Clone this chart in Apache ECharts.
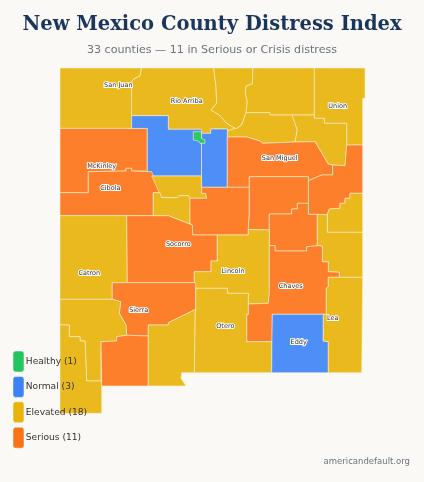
<!DOCTYPE html>
<html><head><meta charset="utf-8">
<style>html,body{margin:0;padding:0;background:#faf9f6}#c{width:424px;height:482px}</style>
<script src="https://cdn.jsdelivr.net/npm/echarts@6/dist/echarts.min.js"></script>
</head><body><div id="c"></div>
<script>
// County outlines in map units
const sanJuan=[[60,68],[141.6,68],[140.7,73],[140,76],[134,79],[132,81],[131.6,83],[131.6,128.4],[60,128.4]];
const rioArriba=[[131.6,83],[132,81],[134,79],[140,76],[140.7,73],[141.6,68],[213.7,68],[216,86.7],[216.7,103],[211,110],[219.3,115],[226.7,123.3],[235,128.3],[228.3,131],[227.3,129],[210.7,129],[210.7,133.3],[201.5,133.3],[201.5,129.3],[168.3,129.3],[168.3,115.7],[131.6,115.7]];
const taos=[[213.7,68],[253,68],[252.7,75],[252.3,84],[246,86],[245.3,93.3],[247.3,101.7],[246,112.7],[241.7,125],[236.7,128.5],[235,128.3],[226.7,123.3],[219.3,115],[211,110],[216.7,103],[216,86.7]];
const colfax=[[253,68],[314.3,68],[314.3,115],[270,115],[270,112.7],[246,112.7],[247.3,101.7],[245.3,93.3],[246,86],[252.3,84],[252.7,75]];
const union=[[314.3,68],[365,68],[365,98.3],[362.7,98.3],[362.7,145],[346.7,145],[346.7,123.3],[324.3,123.3],[324.3,118.3],[314.3,118.3]];
const mora=[[246,112.7],[270,112.7],[270,115],[292.3,115],[292.3,116],[297.3,130],[295,142],[262.7,143.3],[260,141],[246.7,137],[227.3,137],[227.3,131],[228.3,131],[235,128.3],[236.7,128.5],[241.7,125]];
const harding=[[292.3,115],[314.3,115],[314.3,118.3],[324.3,118.3],[324.3,123.3],[346.7,123.3],[346.7,145],[345,165.7],[332.7,165],[328.3,164],[315,141.7],[295,142],[297.3,130],[292.3,116]];
const mcKinley=[[60,128.4],[147.3,128.4],[147.3,171],[131.7,171],[131.7,168.3],[126,168.3],[126,171],[88.3,171.7],[88.3,192.7],[60,192.7]];
const sandoval=[[131.6,115.7],[168.3,115.7],[168.3,129.3],[201.5,129.3],[201.5,176],[151.7,176],[147.3,171],[147.3,128.4],[131.6,128.4]];
const santaFe=[[201.5,133.3],[210.7,133.3],[210.7,129],[227.3,129],[227.3,187.3],[201.5,187.3]];
const losAlamos=[[193.3,131.7],[201.5,131.7],[201.5,138.3],[205,140],[205,143.3],[200,143.3],[198.3,141],[193.3,140]];
const sanMiguel=[[227.3,137],[246.7,137],[260,141],[262.7,143.3],[295,142],[315,141.7],[328.3,164],[332.7,165],[332.7,175],[321.7,175],[308.3,180.7],[308.3,176.7],[249.3,176.7],[249.3,187.3],[227.3,187.3]];
const quay=[[346.7,145],[362.7,145],[362.7,193.3],[350,193.3],[350,198.3],[345,198.3],[345,203.3],[340,203.3],[340,208.3],[329.3,209],[327.3,214.6],[308.3,214.3],[308.3,180.7],[321.7,175],[332.7,175],[332.7,165],[345,165.7]];
const cibola=[[60,192.7],[88.3,192.7],[88.3,171.7],[126,171],[126,168.3],[131.7,168.3],[131.7,171],[151.7,171.7],[160,192.7],[153.3,192.7],[153.3,215.7],[60,215.7]];
const bernalillo=[[151.7,176],[201.5,176],[201.7,193.3],[205.7,193.3],[206.7,198.3],[190,198.3],[188.3,195.7],[179.3,195.7],[176.7,197.7],[161.7,197.7]];
const valencia=[[153.3,192.7],[160,192.7],[161.7,197.7],[176.7,197.7],[179.3,195.7],[188.3,195.7],[190,198.3],[190,223],[192.3,225],[168.3,215.7],[153.3,215.7]];
const torrance=[[201.7,187.3],[249.3,187.3],[249.3,215],[248.3,229],[248.3,235],[192.7,235],[192.3,225],[190,223],[190,198.3],[206.7,198.3],[205.7,193.3],[201.7,193.3]];
const guadalupe=[[249.3,176.7],[308.3,176.7],[308.3,203.3],[297.3,203.3],[297.3,209],[291.7,209],[291.7,214],[269.3,214],[269.3,230],[248.3,229.5],[249.3,215]];
const curry=[[362.7,193.3],[362.7,232.3],[327.3,232.3],[327.3,214.6],[329.3,209],[340,208.3],[340,203.3],[345,203.3],[345,198.3],[350,198.3],[350,193.3]];
const deBaca=[[269.3,214],[291.7,214],[291.7,209],[297.3,209],[297.3,203.3],[308.3,203.3],[308.3,214.3],[317.3,214.3],[317.3,245.7],[306.7,246.7],[306.7,251],[275,251],[275,245.7],[269.3,245.7]];
const roosevelt=[[317.3,214.3],[327.3,214.6],[327.3,232.3],[362.7,232.3],[362.7,277.3],[339.3,277.3],[339.3,272.3],[328.3,271.7],[328.3,262],[322.3,261.7],[322.3,246],[317.3,245.7]];
const catron=[[60,215.7],[126.7,215.7],[127.3,282.7],[112.3,282.7],[112.3,299.3],[60,299.3]];
const socorro=[[126.7,215.7],[168.3,215.7],[192.3,225],[192.7,235],[217.3,235],[217.3,261],[211,261],[211,271.7],[194.3,271.7],[194.3,282.7],[127.3,282.7]];
const lincoln=[[217.3,235],[248.3,235],[248.3,229.5],[269.3,230],[269.3,293.3],[268.3,303.3],[248.3,304],[248.3,293.3],[227.3,293.3],[227.3,288.3],[195.7,288.3],[194.3,282.7],[194.3,271.7],[211,271.7],[211,261],[217.3,261]];
const chaves=[[269.3,245.7],[275,245.7],[275,251],[306.7,251],[306.7,246.7],[317.3,245.7],[322.3,246],[322.3,261.7],[328.3,262],[328.3,271.7],[339.3,272.3],[339.3,277.3],[328.3,277.3],[328.3,286.7],[326.3,288.3],[326.3,314.3],[272.3,314.3],[272.3,341.7],[246.7,341.7],[246.7,314.3],[248.3,314.3],[248.3,304],[268.3,303.3],[269.3,293.3]];
const sierra=[[112.3,282.7],[195.7,282.7],[195.7,309.3],[168.3,322.7],[168.3,325],[148.3,325],[148.3,336],[126.7,335.3],[126,325],[119.3,313.3],[120.7,301.7],[112.3,299.3]];
const otero=[[195.7,288.3],[227.3,288.3],[227.3,293.3],[248.3,293.3],[248.3,314.3],[246.7,314.3],[246.7,341.7],[271.9,341.7],[271.7,372.7],[194.3,372.7],[195,313.3],[195.7,309.3]];
const grant=[[60,299.3],[112.3,299.3],[120.7,301.7],[119.3,313.3],[126,325],[126.7,335.3],[116.7,336.7],[116.7,341],[101,341.7],[101,381],[86.7,381],[85,341],[80,341],[80,336.7],[69.3,336.7],[69.3,325],[60,325]];
const hidalgo=[[60,325],[69.3,325],[69.3,336.7],[80,336.7],[80,341],[85,341],[86.7,381],[101.7,381],[101.7,413.3],[60,413.3]];
const luna=[[101,341.7],[116.7,341],[116.7,336.7],[126.7,335.3],[148.3,336],[148.3,386],[101.7,386]];
const donaAna=[[148.3,325],[168.3,325],[168.3,322.7],[195.7,309.3],[195,313.3],[194.3,372.7],[181.7,372.7],[181,378.3],[186,386],[148.3,386]];
const eddy=[[272.3,314.3],[323.3,314.3],[323.3,341],[328.3,341.7],[328.3,372.7],[271.7,372.7],[271.9,341.7]];
const lea=[[328.3,277.3],[362.7,277.3],[361.7,372.7],[328.3,372.7],[328.3,341.7],[323.3,341],[323.3,314.3],[326.3,314.3],[326.3,288.3],[328.3,286.7]];

const countyNames=["San Juan","Rio Arriba","Taos","Colfax","Union","Mora","Harding","McKinley","Sandoval","Santa Fe","Los Alamos","San Miguel","Quay","Cibola","Bernalillo","Valencia","Torrance","Guadalupe","Curry","De Baca","Roosevelt","Catron","Socorro","Lincoln","Chaves","Sierra","Otero","Grant","Hidalgo","Luna","Doña Ana","Eddy","Lea"];
const countyShapes=[sanJuan,rioArriba,taos,colfax,union,mora,harding,mcKinley,sandoval,santaFe,losAlamos,sanMiguel,quay,cibola,bernalillo,valencia,torrance,guadalupe,curry,deBaca,roosevelt,catron,socorro,lincoln,chaves,sierra,otero,grant,hidalgo,luna,donaAna,eddy,lea];
const healthy=["Los Alamos"];
const normal=["Sandoval","Santa Fe","Eddy"];
const serious=["McKinley","Cibola","San Miguel","Quay","Torrance","Guadalupe","De Baca","Socorro","Chaves","Sierra","Luna"];
const labelledNames=["San Juan","Rio Arriba","McKinley","Cibola","Union","San Miguel","Socorro","Catron","Lincoln","Chaves","Sierra","Otero","Lea","Eddy"];
const labelAnchors=[[118.3,85.3],[186.7,101],[101.7,166.6],[110.3,188.3],[337.7,106.3],[279.7,158],[178.3,244],[89.3,273.3],[233,271.6],[290.7,286.3],[138.7,310],[225.3,326.3],[332.7,318],[298.7,342]];
const tierNames=["Healthy (1)","Normal (3)","Elevated (18)","Serious (11)"];
const tierColors=["#22c55e","#3b82f6","#eab308","#f97316"];
const fillColors=["#2dc968","#4e8ef7","#e9b91e","#fd7f2b"];

function tierOf(n){return healthy.includes(n)?0:normal.includes(n)?1:serious.includes(n)?3:2;}
const features=countyNames.map((n,i)=>{
  const li=labelledNames.indexOf(n);
  const ring=countyShapes[i].concat([countyShapes[i][0]]);
  return {type:"Feature",properties:li>=0?{name:n,cp:labelAnchors[li]}:{name:n},geometry:{type:"Polygon",coordinates:[ring]}};
});
echarts.registerMap("newMexico",{type:"FeatureCollection",features});

const chart=echarts.init(document.getElementById("c"),null,{renderer:"canvas"});
chart.setOption({
  backgroundColor:"#faf9f6",
  animation:false,
  title:[
    {text:"New Mexico County Distress Index",left:"center",top:10,textStyle:{fontFamily:"DejaVu Serif",fontWeight:"bold",fontSize:19.5,color:"#1a365d"}},
    {text:"33 counties — 11 in Serious or Crisis distress",left:"center",top:39.5,textStyle:{fontFamily:"DejaVu Sans",fontWeight:"normal",fontSize:11.1,color:"#6b7280"}},
    {text:"americandefault.org",right:9,top:452,textStyle:{fontFamily:"DejaVu Sans",fontWeight:"normal",fontSize:8.5,color:"#6b7280"}}
  ],
  legend:{
    orient:"vertical",left:12.5,top:350.5,padding:0,itemWidth:11,itemHeight:21,itemGap:3.4,
    textStyle:{fontFamily:"DejaVu Sans",fontSize:9.1,color:"#333",padding:[0,0,0,-3.2]},
    data:tierNames.map((n,i)=>({name:n,icon:"roundRect",itemStyle:{color:tierColors[i],borderColor:"rgba(255,255,255,0.5)",borderWidth:1}})),
    selectedMode:false
  },
  series:[
    {type:"map",map:"newMexico",left:60,top:68,width:305,height:345.3,aspectScale:1,
     projection:{project:p=>p,unproject:p=>p},showLegendSymbol:false,
     roam:false,silent:true,selectedMode:false,
     itemStyle:{borderColor:"rgba(255,240,210,0.6)",borderWidth:1,areaColor:"#e9b91e"},
     label:{show:false},
     emphasis:{disabled:true},
     data:countyNames.map(n=>({name:n,value:tierOf(n),
       itemStyle:{areaColor:fillColors[tierOf(n)]},
       label:{show:labelledNames.includes(n),fontFamily:"DejaVu Sans",fontSize:6.5,color:"#333",textBorderColor:"#fff",textBorderWidth:2}}))
    },
    ...tierNames.map((n,i)=>({type:"custom",name:n,coordinateSystem:"none",renderItem:()=>null,data:[],itemStyle:{color:tierColors[i]}}))
  ]
});
</script></body></html>
